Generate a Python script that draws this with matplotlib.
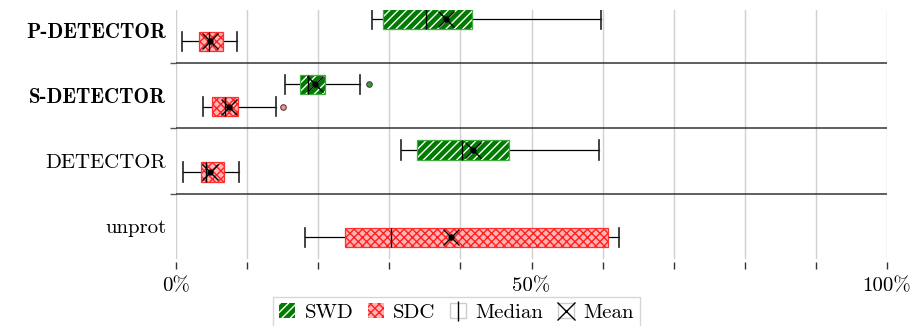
import matplotlib
matplotlib.use('Agg')
import matplotlib.pyplot as plt
from matplotlib.patches import Patch, PathPatch
from matplotlib.lines import Line2D
from matplotlib.legend_handler import HandlerTuple

# groups from bottom to top
groups = ['unprot', 'DETECTOR', 'S-DETECTOR', 'P-DETECTOR']
bold_groups = ['S-DETECTOR', 'P-DETECTOR']

# SWD (no run for unprot)
swd_groups = ['DETECTOR', 'S-DETECTOR', 'P-DETECTOR']
swd_whislo = [31.7, 15.4, 27.6]
swd_q1 = [33.9, 17.4, 29.1]
swd_med = [40.2, 18.6, 35.2]
swd_mean = [41.8, 19.6, 38.0]
swd_q3 = [46.9, 20.9, 41.7]
swd_whishi = [59.5, 25.9, 59.8]
swd_fliers = [[], [27.1], []]

# SDC
sdc_groups = ['unprot', 'DETECTOR', 'S-DETECTOR', 'P-DETECTOR']
sdc_whislo = [18.2, 1.0, 3.75, 0.8]
sdc_q1 = [23.7, 3.5, 5.0, 3.3]
sdc_med = [30.2, 4.2, 6.9, 4.7]
sdc_mean = [38.7, 4.8, 7.4, 4.8]
sdc_q3 = [60.7, 6.7, 8.7, 6.6]
sdc_whishi = [62.3, 8.8, 14.0, 8.6]
sdc_fliers = [[], [], [15.1], []]

xticks = [0, 10, 20, 30, 40, 50, 60, 70, 80, 90, 100]
xticklabels = ['0%', '', '', '', '', '50%', '', '', '', '', '100%']

plt.rcParams['font.family'] = 'cmr10'
plt.rcParams['axes.formatter.use_mathtext'] = True
plt.rcParams['hatch.linewidth'] = 1.0

fig = plt.figure(figsize=(9.13, 3.26), dpi=100)
ax = fig.add_axes([176 / 913, 1 - 259 / 326, 711 / 913, 249 / 326])
# ticks sit a little below the plot area
ax.spines['bottom'].set_position(('outward', 2.2))


def stats(whislo, q1, med, mean, q3, whishi, fliers):
    return [dict(whislo=a, q1=b, med=c, mean=d, q3=e, whishi=f, fliers=g)
            for a, b, c, d, e, f, g in zip(whislo, q1, med, mean, q3, whishi, fliers)]


def draw(st, pos, face, hatch, hatchcol, edge, flierface):
    bp = ax.bxp(st, positions=pos, vert=False, widths=0.3, capwidths=0.3,
                patch_artist=True, showmeans=True, showfliers=True,
                boxprops=dict(facecolor=face, edgecolor=hatchcol, hatch=hatch, linewidth=0),
                medianprops=dict(color='black', linewidth=1.0),
                whiskerprops=dict(color='black', linewidth=0.9),
                capprops=dict(color='#222222', linewidth=1.2),
                meanprops=dict(marker='x', markeredgecolor='black', markersize=11, markeredgewidth=1.0),
                flierprops=dict(marker='o', markerfacecolor=flierface, markeredgecolor='#444444',
                                markersize=4, markeredgewidth=0.8))
    for box in bp['boxes']:
        ax.add_patch(PathPatch(box.get_path(), fill=False, edgecolor=edge, linewidth=0.9,
                               transform=box.get_transform(), zorder=box.get_zorder()))
    for s, p in zip(st, pos):
        ax.plot(s['mean'], p, 'o', color='black', markersize=3.5, zorder=4)


draw(stats(swd_whislo, swd_q1, swd_med, swd_mean, swd_q3, swd_whishi, swd_fliers),
     [groups.index(g) + 0.67 for g in swd_groups],
     '#007a00', '////', 'white', '#3fae3f', '#3a9a3a')
draw(stats(sdc_whislo, sdc_q1, sdc_med, sdc_mean, sdc_q3, sdc_whishi, sdc_fliers),
     [groups.index(g) + 0.33 for g in sdc_groups],
     '#ffb3b3', 'xxxx', '#ff2020', '#ff3030', '#ff9090')

for y in range(1, len(groups)):
    ax.axhline(y, color='#333333', linewidth=1.1, zorder=1)

ax.set_xlim(0, 100)
ax.set_ylim(0, 3 + 53 / 65.5)
ax.set_xticks(xticks)
ax.set_xticklabels(xticklabels, fontsize=15)
ax.grid(axis='x', color='#d0d0d0', linewidth=1.0, zorder=0)
ax.set_axisbelow(True)
ax.tick_params(axis='x', direction='out', length=5, width=1, color='#333333', pad=6)

ax.set_yticks(range(1, len(groups)))
ax.set_yticklabels([])
ax.set_yticks([i + 0.5 for i in range(len(groups))], minor=True)
ax.set_yticklabels(groups, minor=True, fontsize=15)
for lab, g in zip(ax.get_yticklabels(minor=True), groups):
    if g in bold_groups:
        lab.set_family('cmb10')
ax.tick_params(axis='y', which='major', direction='out', length=4, width=1, color='#555555')
ax.tick_params(axis='y', which='minor', length=0, pad=7)

for sp in ax.spines.values():
    sp.set_visible(False)

handles = [
    Patch(facecolor='#007a00', edgecolor='white', hatch='////', linewidth=0),
    Patch(facecolor='#ffb3b3', edgecolor='#ff2020', hatch='xxxx', linewidth=0),
    (Patch(facecolor='white', edgecolor='#cccccc'),
     Line2D([], [], marker='|', color='black', linestyle='none', markersize=15)),
    (Patch(facecolor='white', edgecolor='#cccccc'),
     Line2D([], [], marker='x', color='black', linestyle='none', markersize=13)),
]
fig.legend(handles, ['SWD', 'SDC', 'Median', 'Mean'], loc='upper center',
           bbox_to_anchor=(0.5, 1 - 297 / 326), borderaxespad=0, ncol=4, fontsize=15,
           frameon=True, fancybox=False, edgecolor='#cccccc', handlelength=0.77,
           handleheight=0.72, handletextpad=0.45, columnspacing=0.7, borderpad=0.3)

fig.savefig('out.png', dpi=100)
plt.close(fig)
